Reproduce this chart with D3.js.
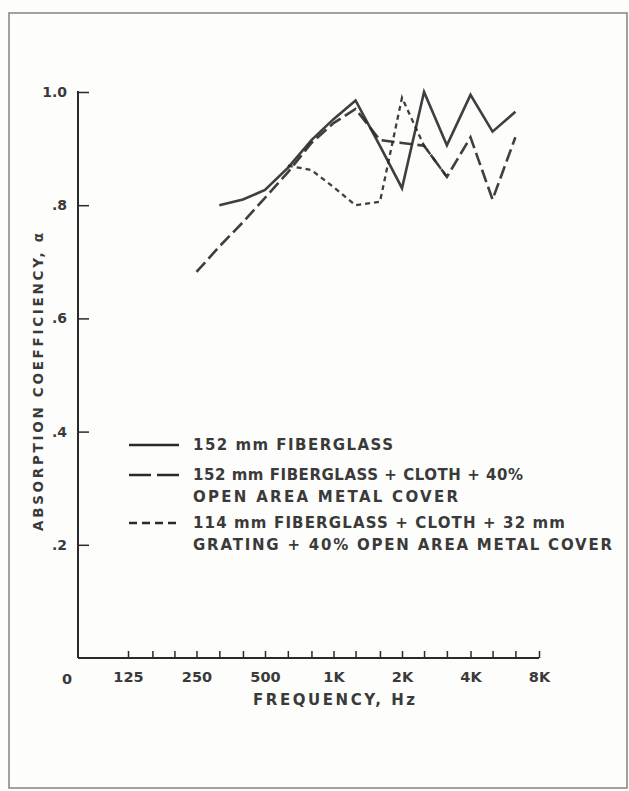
<!DOCTYPE html>
<html><head><meta charset="utf-8">
<script src="https://cdn.jsdelivr.net/npm/d3@7"></script>
<style>
html,body{margin:0;padding:0;background:#fdfdfc;}
svg{display:block;}
text{font-family:"DejaVu Sans","Liberation Sans",Arial,sans-serif;font-weight:bold;fill:#3a3a3a;}
</style></head>
<body>
<script>
// ---- data ----
const bandFreqs = [125,160,200,250,315,400,500,630,800,1000,1250,1600,2000,2500,3150,4000,5000,6300,8000];
const octaveLabels = ["125","250","500","1K","2K","4K","8K"];
const octaveFreqs = [125,250,500,1000,2000,4000,8000];
const yTickValues = [0.2,0.4,0.6,0.8,1.0];
const yTickLabels = [".2",".4",".6",".8","1.0"];

const freqsFG152 = [315,400,500,630,800,1000,1250,1600,2000,2500,3150,4000,5000,6300];
const valsFG152  = [0.80,0.81,0.827,0.866,0.915,0.952,0.985,0.905,0.83,1.0,0.906,0.995,0.93,0.965];

const freqsFG152Cover = [250,315,400,500,630,800,1000,1250,1600,2000,2500,3150,4000,5000,6300];
const valsFG152Cover  = [0.682,0.727,0.77,0.813,0.858,0.91,0.945,0.97,0.915,0.91,0.905,0.85,0.92,0.81,0.92];

const freqsFG114Grating = [630,800,1000,1250,1600,2000,2500,3150];
const valsFG114Grating  = [0.87,0.862,0.832,0.80,0.806,0.99,0.905,0.85];

const seriesNames = ["152 mm FIBERGLASS","152 mm FIBERGLASS + CLOTH + 40%|OPEN AREA METAL COVER","114 mm FIBERGLASS + CLOTH + 32 mm|GRATING + 40% OPEN AREA METAL COVER"];

const xTitle = "FREQUENCY, Hz";
const yTitle = "ABSORPTION COEFFICIENCY, \u03b1";

// ---- drawing ----
const W = 629, H = 791;
const svg = d3.select("body").append("svg").attr("width",W).attr("height",H);
const ink = "#2a2a2a";

svg.append("rect").attr("x",9).attr("y",13).attr("width",618).attr("height",775)
  .attr("fill","none").attr("stroke","#8a8a8a").attr("stroke-width",1.6);

const x = d3.scaleLog().base(2).domain([125,8000]).range([128,539]);
const y = d3.scaleLinear().domain([0,1]).range([658,92]);
const axisX0 = 78;

// x axis
const xAxis = d3.axisBottom(x).tickValues(bandFreqs).tickSize(-7).tickPadding(14)
  .tickFormat(d => { const i = octaveFreqs.indexOf(d); return i >= 0 ? octaveLabels[i] : ""; });
const gx = svg.append("g").attr("transform",`translate(0,${y(0)})`).call(xAxis);
gx.select(".domain").remove();
gx.selectAll(".tick line").attr("stroke",ink).attr("stroke-width",1.5);
gx.selectAll(".tick text").attr("font-size",14.5).attr("fill","#3a3a3a").attr("font-family",null);
gx.append("line").attr("x1",axisX0).attr("x2",x(8000)).attr("y1",0).attr("y2",0)
  .attr("stroke",ink).attr("stroke-width",2);
gx.append("text").attr("x",67).attr("y",26).attr("text-anchor","middle").attr("font-size",14.5).text("0");

// y axis
const yAxis = d3.axisLeft(y).tickValues(yTickValues).tickSize(-11).tickPadding(11)
  .tickFormat((d,i) => yTickLabels[i]);
const gy = svg.append("g").attr("transform",`translate(${axisX0},0)`).call(yAxis);
gy.select(".domain").remove();
gy.selectAll(".tick line").attr("stroke",ink).attr("stroke-width",1.5);
gy.selectAll(".tick text").attr("font-size",14).attr("fill","#3a3a3a").attr("font-family",null);
gy.append("line").attr("x1",0).attr("x2",0).attr("y1",y(0)).attr("y2",y(1)-1)
  .attr("stroke",ink).attr("stroke-width",2);

// titles
svg.append("text").attr("x",334).attr("y",705).attr("text-anchor","middle")
  .attr("font-size",15).attr("textLength",162).attr("lengthAdjust","spacing").text(xTitle);
svg.append("text").attr("transform","translate(43,382) rotate(-90)").attr("text-anchor","middle")
  .attr("font-size",13.5).attr("textLength",298).attr("lengthAdjust","spacing").text(yTitle);

// lines
const line = d3.line().x(d => x(d[0])).y(d => y(d[1]));
const series = [
  {f:freqsFG152, v:valsFG152, dash:null, w:2.6, leg:null},
  {f:freqsFG152Cover, v:valsFG152Cover, dash:"13,5", w:2.6, leg:"22,6"},
  {f:freqsFG114Grating, v:valsFG114Grating, dash:"5,4", w:2.3, leg:"8,5"}
];
series.forEach(s => {
  svg.append("path").datum(s.f.map((f,i)=>[f,s.v[i]]))
    .attr("d",line).attr("fill","none").attr("stroke",ink)
    .attr("stroke-width",s.w).attr("stroke-dasharray",s.dash).attr("stroke-linejoin","miter").attr("opacity",0.9);
});

// legend
const legY = [445,475,523];
const legWidths = [[200],[330,265],[372,419]];
series.forEach((s,i) => {
  svg.append("line").attr("x1",129).attr("x2",179).attr("y1",legY[i]).attr("y2",legY[i])
    .attr("stroke",ink).attr("stroke-width",2.4).attr("stroke-dasharray",s.leg);
  seriesNames[i].split("|").forEach((t,j) => {
    svg.append("text").attr("x",193).attr("y",legY[i]+5+j*22).attr("font-size",15)
      .attr("textLength",legWidths[i][j]).attr("lengthAdjust","spacing").text(t);
  });
});
</script>
</body></html>
